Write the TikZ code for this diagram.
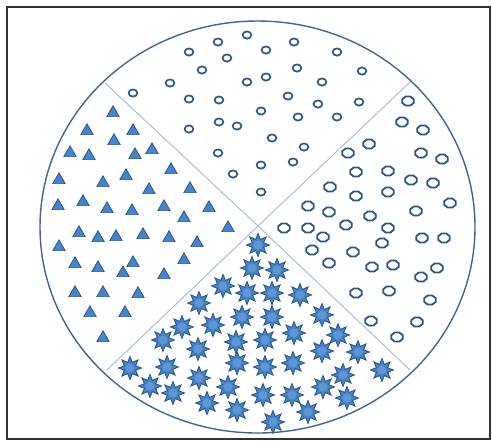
\documentclass[tikz,border=0pt]{standalone}
\usetikzlibrary{shapes.geometric}
\definecolor{dotblue}{RGB}{45,85,140}
\definecolor{fillblue}{RGB}{68,132,202}
\definecolor{edgeblue}{RGB}{38,80,140}
\definecolor{lineblue}{RGB}{165,185,215}
\definecolor{rimblue}{RGB}{65,100,150}

\begin{document}
\begin{tikzpicture}[x=0.5pt,y=-0.5pt,
  ringdot/.style={ellipse,draw=dotblue,line width=0.85pt,
               minimum width=4.4pt,minimum height=3.6pt,inner sep=0pt},
  octdot/.style={regular polygon,regular polygon sides=8,draw=dotblue,
               line width=0.9pt,minimum size=4.9pt,inner sep=0pt,xscale=1.25},
  tridot/.style={regular polygon,regular polygon sides=3,fill=fillblue,
               draw=edgeblue,line width=0.35pt,minimum size=7.2pt,inner sep=0pt},
  stardot/.style={star,star points=8,star point ratio=1.9,fill=fillblue,
               draw=edgeblue,line width=0.4pt,minimum size=11.5pt,inner sep=0pt},
  hubdot/.style={circle,fill=fillblue!85!white,minimum size=4.4pt,inner sep=0pt},
  divider/.style={draw=lineblue,line width=0.45pt}]

  \useasboundingbox (0,0) rectangle (492,441);
  \draw[black!80,line width=0.9pt] (7,7) rectangle (490,439);

  % outer disc and the two dividers
  \draw[rimblue,line width=0.7pt] (257.5,227) ellipse [x radius=217.5,y radius=206];
  \coordinate (hub) at (258,226);
  \coordinate (UL) at (105,83);
  \coordinate (UR) at (410,82);
  \coordinate (LL) at (107,370);
  \coordinate (LR) at (410,370);
  \draw[divider] (UL) -- (hub) -- (LR);
  \draw[divider] (UR) -- (hub) -- (LL);

  % top sector: small rings
  \foreach \px/\py [count=\i] in {247/35,218/42,294/42,189/52,266/50,337/52,
      227/58,202/70,297/68,362/71,170/83,247/82,266/77,322/82,133/93,189/99,
      219/100,288/96,318/104,359/102,261/111,298/117,337/117,189/129,219/122,
      237/126,272/138,304/147,218/153,261/165,293/162,233/174,261/192}
    \node[ringdot] (ring\i) at (\px,\py) {};

  % right sector: octagons
  \foreach \px/\py [count=\i] in {408/101,402/122,423/130,369/144,348/153,
      421/153,442/159,356/172,388/171,411/180,433/183,330/187,356/196,388/192,
      450/203,308/206,329/212,370/216,416/211,284/228,308/228,346/225,388/228,
      323/237,422/238,444/238,312/250,353/252,382/243,329/263,372/267,393/265,
      421/277,437/268,356/293,389/291,430/300,371/321,417/322,397/337}
    \node[octdot] (oct\i) at (\px,\py) {};

  % left sector: triangles
  \foreach \px/\py [count=\i] in {113/113,87/131,133/131,114/141,70/153,
      89/156,135/155,152/150,59/180,103/183,126/176,171/170,149/190,190/189,
      58/206,83/202,107/209,132/211,164/207,209/208,184/218,228/228,79/233,
      98/238,116/237,143/235,169/238,197/243,59/247,75/264,98/268,133/263,
      123/273,184/260,164/275,75/293,103/293,138/294,90/313,125/313,103/338}
    \node[tridot] (tri\i) at (\px,\py) {};

  % bottom sector: stars
  \foreach \px/\py [count=\i] in {258/245,252/268,277/270,223/286,247/293,
      272/293,300/295,199/303,242/317,272/317,322/315,182/327,213/325,294/333,
      338/335,163/340,236/342,265/340,198/349,322/351,358/352,130/368,167/367,
      237/363,265/367,293/363,382/370,343/375,199/378,228/387,150/386,173/393,
      263/395,292/395,323/387,347/398,207/403,237/410,308/412,273/422}
    {\node[stardot] (star\i) at (\px,\py) {};
     \node[hubdot] at (star\i) {};}
\end{tikzpicture}
\end{document}
